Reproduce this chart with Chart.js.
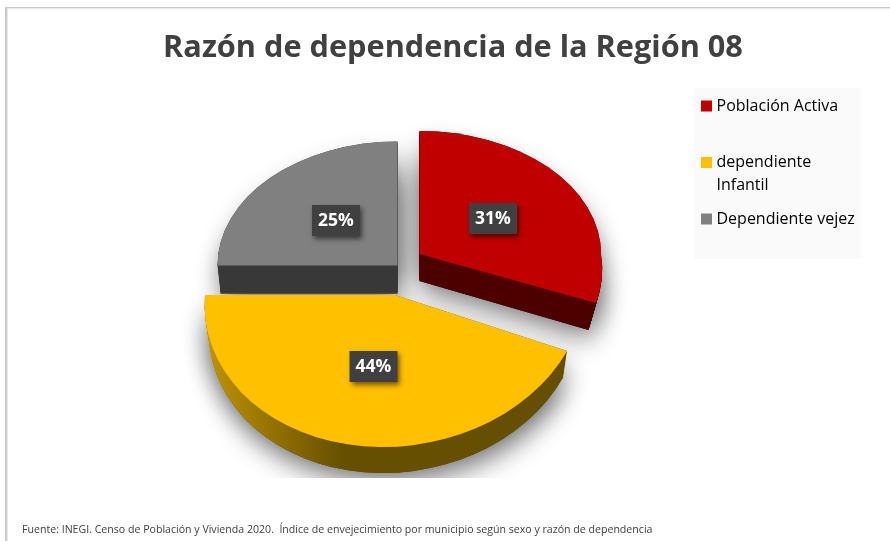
<!DOCTYPE html>
<html><head><meta charset="utf-8">
<style>html,body{margin:0;padding:0;background:#fff}#wrap{width:890px;height:541px}canvas{display:block}</style>
<script src="https://cdn.jsdelivr.net/npm/chart.js@4"></script>
</head><body><div id="wrap"><canvas id="c" width="890" height="541"></canvas></div>
<script>
const titleText = 'Razón de dependencia de la Región 08';
const sourceText = 'Fuente: INEGI. Censo de Población y Vivienda 2020.  Índice de envejecimiento por municipio según sexo y razón de dependencia';
const categories = ['Población Activa', 'dependiente Infantil', 'Dependiente vejez'];
const legendLines = [['Población Activa', ''], ['dependiente', 'Infantil'], ['Dependiente vejez']];
const values = [31, 44, 25];
const topColors = ['#c00000', '#ffc000', '#808080'];
const wallColors = ['#4d0000', null, '#393939'];

// Look of the 3D pie: where each exploded slice sits and how it is squashed.
const look = [
  {cx:419.5, cy:254,   rx:181.5, ryTop:123, ryBot:133, shear:0.16,  depth:27, taper:0.045, label:[493,218.5]},
  {cx:395,   cy:295,   rx:190,   ryTop:152, ryBot:152, shear:-0.08, depth:26, taper:0.022, label:[373.5,366.5]},
  {cx:397.5, cy:265.5, rx:180,   ryTop:124, ryBot:124, shear:0,     depth:28, taper:0.017, label:[336,220.5]}
];
const drawOrder = [2, 0, 1];

function drawPart(ctx, arc, s, a0, a1, lower, d, color) {
  const R = arc.outerRadius, t = 1 - s.taper * d / s.depth;
  const sx = s.rx * t / R, sy = (lower ? s.ryBot : s.ryTop) / R, k = lower ? s.shear : 0;
  ctx.save();
  ctx.transform(sx, 0, k * sy, sy, s.cx - arc.x * sx - k * arc.y * sy, s.cy + d - arc.y * sy);
  const keep = [arc.startAngle, arc.endAngle, arc.circumference, arc.options];
  arc.startAngle = a0; arc.endAngle = a1; arc.circumference = a1 - a0;
  const fill = typeof color === 'function' ? color(arc, sx, s) : color;
  arc.options = Object.assign({}, keep[3], {backgroundColor: fill, borderWidth: 0});
  arc.draw(ctx);
  [arc.startAngle, arc.endAngle, arc.circumference, arc.options] = keep;
  ctx.restore();
}
function drawSlice(ctx, arc, s, d, color) {
  const a0 = arc.startAngle, a1 = arc.endAngle;
  if (a0 < 0 && a1 > 0) {
    drawPart(ctx, arc, s, a0, 0.006, false, d, color);
    drawPart(ctx, arc, s, 0, a1, true, d, color);
  } else {
    drawPart(ctx, arc, s, a0, a1, Math.sin((a0 + a1) / 2) > 0, d, color);
  }
}
function yellowWall(arc, sx, s) {
  const toUser = X => arc.x + (X - s.cx) / sx;
  const g = arc.$context.chart.ctx.createLinearGradient(toUser(205), 0, toUser(355), 0);
  g.addColorStop(0, '#c49600');
  g.addColorStop(1, '#665000');
  return g;
}

const pie3d = {
  id: 'pie3d',
  beforeDraw(chart) {
    const ctx = chart.ctx;
    ctx.save();
    ctx.fillStyle = '#ffffff'; ctx.fillRect(0, 0, 890, 541);
    ctx.fillStyle = '#c8c8c8';
    ctx.fillRect(5, 7, 2.4, 534);
    ctx.fillRect(5, 7, 885, 1.4);
    ctx.fillStyle = '#fafafa';
    ctx.fillRect(694, 88, 167, 171);
    ctx.restore();
  },
  afterLayout(chart) {
    const l = chart.legend;
    l.left = 694; l.right = 861; l.top = 87.5; l.bottom = 300;
  },
  beforeDatasetDraw(chart, args) {
    const ctx = chart.ctx, arcs = chart.getDatasetMeta(args.index).data;
    ctx.save();
    ctx.beginPath(); ctx.rect(0, 0, 890, 478); ctx.clip();
    ctx.shadowColor = 'rgba(0,0,0,0.3)';
    ctx.shadowBlur = 26;
    ctx.shadowOffsetX = 2; ctx.shadowOffsetY = 14;
    drawOrder.forEach(i => {
      const s = look[i];
      [s.depth, s.depth / 2, 0].forEach(d => {
        drawSlice(ctx, arcs[i], s, d, wallColors[i] || '#665000');
      });
    });
    ctx.restore();
    drawOrder.forEach(i => {
      const s = look[i];
      for (let d = s.depth; d >= 1; d--) drawSlice(ctx, arcs[i], s, d, wallColors[i] || yellowWall);
      drawSlice(ctx, arcs[i], s, 0, topColors[i]);
    });
    drawOrder.forEach(i => {
      const [x, y] = look[i].label;
      ctx.save();
      ctx.shadowColor = 'rgba(0,0,0,0.55)';
      ctx.shadowBlur = 5; ctx.shadowOffsetX = 2; ctx.shadowOffsetY = 3;
      ctx.fillStyle = '#404040';
      ctx.fillRect(x - 24, y - 15.5, 48, 31);
      ctx.restore();
      ctx.fillStyle = '#ffffff';
      ctx.font = 'bold 17.5px "Open Sans"';
      ctx.textAlign = 'center'; ctx.textBaseline = 'middle';
      ctx.fillText(values[i] + '%', x, y + 0.5);
    });
    return false;
  }
};

new Chart(document.getElementById('c'), {
  type: 'pie',
  data: {
    labels: categories,
    datasets: [{data: values, backgroundColor: topColors, borderWidth: 0}]
  },
  options: {
    responsive: false,
    animation: false,
    layout: {padding: {left: 22, right: 6, top: 30, bottom: 5}},
    plugins: {
      tooltip: {enabled: false},
      title: {
        display: true, text: titleText, color: '#404040', padding: 0,
        font: {family: '"Open Sans"', size: 30.7, weight: 'bold', lineHeight: 1.2}
      },
      subtitle: {
        display: true, text: sourceText, position: 'bottom', align: 'start',
        color: '#404040', padding: 0,
        font: {family: '"Open Sans"', size: 10.6, weight: 'normal', lineHeight: 1.2}
      },
      legend: {
        position: 'right', align: 'start',
        labels: {
          boxWidth: 4, boxHeight: 4, padding: 10.5, color: '#404040',
          font: {family: '"Open Sans"', size: 16, lineHeight: 23 / 16},
          generateLabels: () => legendLines.map((text, i) => ({
            text, fillStyle: topColors[i], strokeStyle: topColors[i],
            lineWidth: 7, lineJoin: 'miter', hidden: false, index: i
          }))
        }
      }
    }
  },
  plugins: [pie3d]
});
</script></body></html>
